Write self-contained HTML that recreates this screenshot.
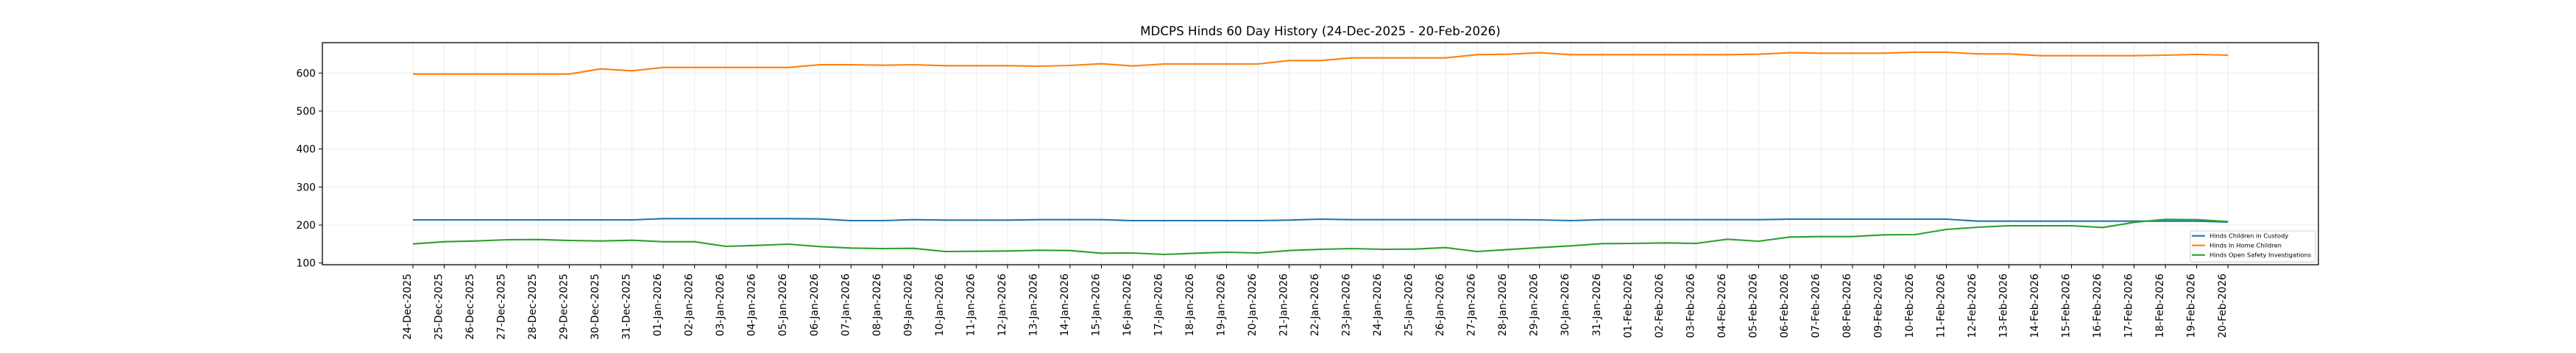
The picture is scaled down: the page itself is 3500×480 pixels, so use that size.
<!DOCTYPE html>
<html><head><meta charset="utf-8"><style>
html,body{margin:0;padding:0;background:#fff;}
svg{display:block;font-family:"DejaVu Sans","Liberation Sans",sans-serif;}
</style></head><body>
<svg width="3500" height="480" viewBox="0 0 3500 480" xmlns="http://www.w3.org/2000/svg">
<rect width="3500" height="480" fill="#fff"/>
<text x="1794" y="48" font-size="16.7" text-anchor="middle" fill="#000">MDCPS Hinds 60 Day History (24-Dec-2025 - 20-Feb-2026)</text>
<g stroke="#ebebeb" stroke-width="1">
<line x1="438" x2="3150" y1="99.3" y2="99.3"/>
<line x1="438" x2="3150" y1="151" y2="151"/>
<line x1="438" x2="3150" y1="202.6" y2="202.6"/>
<line x1="438" x2="3150" y1="254.3" y2="254.3"/>
<line x1="438" x2="3150" y1="306" y2="306"/>
<line x1="438" x2="3150" y1="357.6" y2="357.6"/>
</g>
<g transform="translate(561,0) scale(42.52,1)">
<path vector-effect="non-scaling-stroke" stroke="#ebebeb" stroke-width="1" fill="none" d="M0 58V360M1 58V360M2 58V360M3 58V360M4 58V360M5 58V360M6 58V360M7 58V360M8 58V360M9 58V360M10 58V360M11 58V360M12 58V360M13 58V360M14 58V360M15 58V360M16 58V360M17 58V360M18 58V360M19 58V360M20 58V360M21 58V360M22 58V360M23 58V360M24 58V360M25 58V360M26 58V360M27 58V360M28 58V360M29 58V360M30 58V360M31 58V360M32 58V360M33 58V360M34 58V360M35 58V360M36 58V360M37 58V360M38 58V360M39 58V360M40 58V360M41 58V360M42 58V360M43 58V360M44 58V360M45 58V360M46 58V360M47 58V360M48 58V360M49 58V360M50 58V360M51 58V360M52 58V360M53 58V360M54 58V360M55 58V360M56 58V360M57 58V360M58 58V360"/>
<path vector-effect="non-scaling-stroke" stroke="#000" stroke-width="1" fill="none" d="M0 360V365M1 360V365M2 360V365M3 360V365M4 360V365M5 360V365M6 360V365M7 360V365M8 360V365M9 360V365M10 360V365M11 360V365M12 360V365M13 360V365M14 360V365M15 360V365M16 360V365M17 360V365M18 360V365M19 360V365M20 360V365M21 360V365M22 360V365M23 360V365M24 360V365M25 360V365M26 360V365M27 360V365M28 360V365M29 360V365M30 360V365M31 360V365M32 360V365M33 360V365M34 360V365M35 360V365M36 360V365M37 360V365M38 360V365M39 360V365M40 360V365M41 360V365M42 360V365M43 360V365M44 360V365M45 360V365M46 360V365M47 360V365M48 360V365M49 360V365M50 360V365M51 360V365M52 360V365M53 360V365M54 360V365M55 360V365M56 360V365M57 360V365M58 360V365"/>
<polyline vector-effect="non-scaling-stroke" fill="none" stroke="#ff7f0e" stroke-width="2.1" stroke-linejoin="round" points="0,100.7 1,100.7 2,100.7 3,100.7 4,100.7 5,100.7 6,93.7 7,96.3 8,91.7 9,91.7 10,91.7 11,91.7 12,91.7 13,88 14,88 15,88.7 16,88 17,89.3 18,89.3 19,89.3 20,90 21,89 22,86.7 23,89.7 24,87 25,87 26,87 27,87 28,82.3 29,82.3 30,78.7 31,78.7 32,78.7 33,78.7 34,74.3 35,73.7 36,71.7 37,74.3 38,74.3 39,74.3 40,74.3 41,74.3 42,74.3 43,73.7 44,71.7 45,72.3 46,72.3 47,72.3 48,71 49,71 50,73.3 51,73.3 52,75.7 53,75.7 54,75.7 55,75.7 56,75 57,74 58,75"/>
<polyline vector-effect="non-scaling-stroke" fill="none" stroke="#1f77b4" stroke-width="2.1" stroke-linejoin="round" points="0,299 1,299 2,299 3,299 4,299 5,299 6,299 7,299 8,297.3 9,297.3 10,297.3 11,297.3 12,297.3 13,297.7 14,300 15,300 16,298.7 17,299.3 18,299.3 19,299.3 20,298.7 21,298.7 22,298.7 23,300 24,300 25,300 26,300 27,300 28,299.3 29,298 30,298.7 31,298.7 32,298.7 33,298.7 34,298.7 35,298.7 36,299 37,300 38,298.7 39,298.7 40,298.7 41,298.7 42,298.7 43,298.7 44,298 45,298 46,298 47,298 48,298 49,298 50,300.7 51,300.7 52,300.7 53,300.7 54,300.7 55,300.7 56,300.7 57,300.7 58,302"/>
<polyline vector-effect="non-scaling-stroke" fill="none" stroke="#2ca02c" stroke-width="2.1" stroke-linejoin="round" points="0,331.7 1,328.7 2,327.7 3,326 4,325.7 5,327 6,327.7 7,326.7 8,328.7 9,328.7 10,335 11,333.7 12,332 13,335.3 14,337.3 15,338 16,337.7 17,342 18,341.7 19,341.3 20,340.3 21,340.7 22,344.3 23,344 24,346 25,344.3 26,343 27,344 28,340.7 29,339 30,338 31,339 32,338.7 33,336.7 34,342 35,339.3 36,336.7 37,334.3 38,331.3 39,331 40,330.3 41,331 42,325.3 43,328 44,322.3 45,321.7 46,321.7 47,319.3 48,319 49,312 50,309 51,307 52,307 53,307 54,309.3 55,302.3 56,298.3 57,298.7 58,301.3"/>
</g>
<rect x="438" y="58" width="2712" height="302" fill="none" stroke="#000" stroke-width="1.3"/>
<g stroke="#000" stroke-width="1">
<line x1="433" x2="438" y1="99.3" y2="99.3"/><line x1="433" x2="438" y1="151" y2="151"/><line x1="433" x2="438" y1="202.6" y2="202.6"/><line x1="433" x2="438" y1="254.3" y2="254.3"/><line x1="433" x2="438" y1="306" y2="306"/><line x1="433" x2="438" y1="357.6" y2="357.6"/>
</g>
<g font-size="13.9" text-anchor="end" fill="#000">
<text x="429" y="104.3">600</text><text x="429" y="156">500</text><text x="429" y="207.6">400</text><text x="429" y="259.3">300</text><text x="429" y="311">200</text><text x="429" y="362.6">100</text>
</g>
<g font-size="13.9" text-anchor="end" fill="#000">
<text transform="translate(558,372) rotate(-90)">24-Dec-2025</text>
<text transform="translate(600.5,372) rotate(-90)">25-Dec-2025</text>
<text transform="translate(643,372) rotate(-90)">26-Dec-2025</text>
<text transform="translate(685.6,372) rotate(-90)">27-Dec-2025</text>
<text transform="translate(728.1,372) rotate(-90)">28-Dec-2025</text>
<text transform="translate(770.6,372) rotate(-90)">29-Dec-2025</text>
<text transform="translate(813.1,372) rotate(-90)">30-Dec-2025</text>
<text transform="translate(855.6,372) rotate(-90)">31-Dec-2025</text>
<text transform="translate(898.2,372) rotate(-90)">01-Jan-2026</text>
<text transform="translate(940.7,372) rotate(-90)">02-Jan-2026</text>
<text transform="translate(983.2,372) rotate(-90)">03-Jan-2026</text>
<text transform="translate(1025.7,372) rotate(-90)">04-Jan-2026</text>
<text transform="translate(1068.2,372) rotate(-90)">05-Jan-2026</text>
<text transform="translate(1110.8,372) rotate(-90)">06-Jan-2026</text>
<text transform="translate(1153.3,372) rotate(-90)">07-Jan-2026</text>
<text transform="translate(1195.8,372) rotate(-90)">08-Jan-2026</text>
<text transform="translate(1238.3,372) rotate(-90)">09-Jan-2026</text>
<text transform="translate(1280.8,372) rotate(-90)">10-Jan-2026</text>
<text transform="translate(1323.4,372) rotate(-90)">11-Jan-2026</text>
<text transform="translate(1365.9,372) rotate(-90)">12-Jan-2026</text>
<text transform="translate(1408.4,372) rotate(-90)">13-Jan-2026</text>
<text transform="translate(1450.9,372) rotate(-90)">14-Jan-2026</text>
<text transform="translate(1493.4,372) rotate(-90)">15-Jan-2026</text>
<text transform="translate(1536,372) rotate(-90)">16-Jan-2026</text>
<text transform="translate(1578.5,372) rotate(-90)">17-Jan-2026</text>
<text transform="translate(1621,372) rotate(-90)">18-Jan-2026</text>
<text transform="translate(1663.5,372) rotate(-90)">19-Jan-2026</text>
<text transform="translate(1706,372) rotate(-90)">20-Jan-2026</text>
<text transform="translate(1748.6,372) rotate(-90)">21-Jan-2026</text>
<text transform="translate(1791.1,372) rotate(-90)">22-Jan-2026</text>
<text transform="translate(1833.6,372) rotate(-90)">23-Jan-2026</text>
<text transform="translate(1876.1,372) rotate(-90)">24-Jan-2026</text>
<text transform="translate(1918.6,372) rotate(-90)">25-Jan-2026</text>
<text transform="translate(1961.2,372) rotate(-90)">26-Jan-2026</text>
<text transform="translate(2003.7,372) rotate(-90)">27-Jan-2026</text>
<text transform="translate(2046.2,372) rotate(-90)">28-Jan-2026</text>
<text transform="translate(2088.7,372) rotate(-90)">29-Jan-2026</text>
<text transform="translate(2131.2,372) rotate(-90)">30-Jan-2026</text>
<text transform="translate(2173.8,372) rotate(-90)">31-Jan-2026</text>
<text transform="translate(2216.3,372) rotate(-90)">01-Feb-2026</text>
<text transform="translate(2258.8,372) rotate(-90)">02-Feb-2026</text>
<text transform="translate(2301.3,372) rotate(-90)">03-Feb-2026</text>
<text transform="translate(2343.8,372) rotate(-90)">04-Feb-2026</text>
<text transform="translate(2386.4,372) rotate(-90)">05-Feb-2026</text>
<text transform="translate(2428.9,372) rotate(-90)">06-Feb-2026</text>
<text transform="translate(2471.4,372) rotate(-90)">07-Feb-2026</text>
<text transform="translate(2513.9,372) rotate(-90)">08-Feb-2026</text>
<text transform="translate(2556.4,372) rotate(-90)">09-Feb-2026</text>
<text transform="translate(2599,372) rotate(-90)">10-Feb-2026</text>
<text transform="translate(2641.5,372) rotate(-90)">11-Feb-2026</text>
<text transform="translate(2684,372) rotate(-90)">12-Feb-2026</text>
<text transform="translate(2726.5,372) rotate(-90)">13-Feb-2026</text>
<text transform="translate(2769,372) rotate(-90)">14-Feb-2026</text>
<text transform="translate(2811.6,372) rotate(-90)">15-Feb-2026</text>
<text transform="translate(2854.1,372) rotate(-90)">16-Feb-2026</text>
<text transform="translate(2896.6,372) rotate(-90)">17-Feb-2026</text>
<text transform="translate(2939.1,372) rotate(-90)">18-Feb-2026</text>
<text transform="translate(2981.6,372) rotate(-90)">19-Feb-2026</text>
<text transform="translate(3024.2,372) rotate(-90)">20-Feb-2026</text>
</g>
<rect x="2976" y="314" width="170" height="42" rx="2" fill="#fff" fill-opacity="0.8" stroke="#d0d0d0" stroke-width="1"/>
<g stroke-width="2.1">
<line x1="2978" x2="2996" y1="320.7" y2="320.7" stroke="#1f77b4"/>
<line x1="2978" x2="2996" y1="333.7" y2="333.7" stroke="#ff7f0e"/>
<line x1="2978" x2="2996" y1="346.7" y2="346.7" stroke="#2ca02c"/>
</g>
<g font-size="8.3" fill="#000">
<text x="3002" y="323.7">Hinds Children in Custody</text>
<text x="3002" y="336.7">Hinds In Home Children</text>
<text x="3002" y="349.7">Hinds Open Safety Investigations</text>
</g>
</svg>
</body></html>
